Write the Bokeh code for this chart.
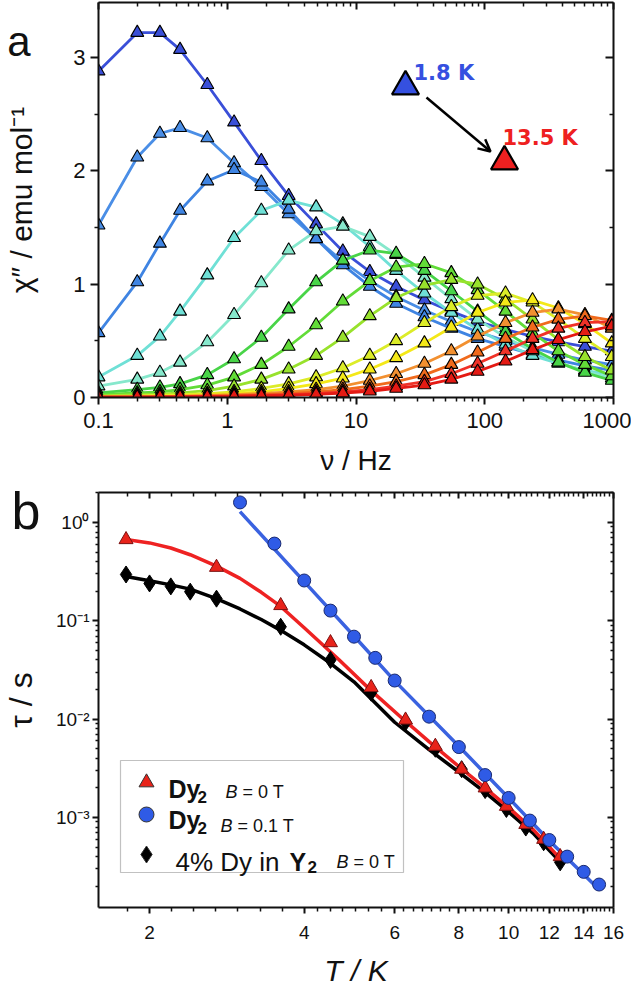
import math
from bokeh.plotting import figure
from bokeh.layouts import column
from bokeh.models import (Range1d, FixedTicker, LogAxis, LinearAxis, Label, Arrow,
                          OpenHead, BoxAnnotation, CustomJSTickFormatter)
from bokeh.embed import file_html
from bokeh.resources import INLINE

FONT = "Liberation Sans"

# ---------------- panel a : chi'' vs frequency ----------------
freq_hz = [0.1, 0.2, 0.3, 0.43, 0.7, 1.13, 1.84, 3.0, 4.9, 7.9, 12.8, 20.5, 34, 55, 88,
           145, 235, 373, 600, 970]
chi_c1 = [2.88, 3.22, 3.22, 3.07, 2.76, 2.43, 2.09, 1.78, 1.53, 1.29, 1.11, 0.98, 0.86, 0.76, 0.67, 0.60, 0.54, 0.49, 0.45, 0.41]
chi_c2 = [1.52, 2.12, 2.33, 2.38, 2.29, 2.07, 1.86, 1.62, 1.40, 1.20, 1.03, 0.89, 0.77, 0.67, 0.58, 0.50, 0.44, 0.38, 0.33, 0.29]
chi_c3 = [0.57, 1.02, 1.36, 1.65, 1.91, 2.01, 1.90, 1.66, 1.40, 1.17, 0.98, 0.83, 0.71, 0.61, 0.52, 0.45, 0.38, 0.33, 0.28, 0.24]
chi_c4 = [0.18, 0.37, 0.54, 0.76, 1.08, 1.41, 1.65, 1.74, 1.68, 1.53, 1.33, 1.12, 0.92, 0.75, 0.60, 0.47, 0.37, 0.30, 0.24, 0.20]
chi_c5 = [0.10, 0.16, 0.22, 0.31, 0.49, 0.73, 1.01, 1.30, 1.47, 1.51, 1.42, 1.26, 1.06, 0.87, 0.69, 0.53, 0.41, 0.31, 0.23, 0.17]
chi_c6 = [0.04, 0.07, 0.09, 0.12, 0.20, 0.34, 0.53, 0.78, 1.02, 1.21, 1.30, 1.27, 1.12, 0.94, 0.76, 0.58, 0.43, 0.31, 0.22, 0.15]
chi_c7 = [0.025, 0.04, 0.05, 0.07, 0.11, 0.18, 0.29, 0.45, 0.64, 0.85, 1.03, 1.15, 1.18, 1.10, 0.95, 0.76, 0.57, 0.41, 0.29, 0.19]
chi_c8 = [0.015, 0.025, 0.03, 0.04, 0.06, 0.10, 0.16, 0.25, 0.37, 0.53, 0.72, 0.88, 0.99, 1.04, 1.00, 0.87, 0.69, 0.51, 0.36, 0.24]
chi_c9 = [0.01, 0.015, 0.02, 0.025, 0.035, 0.05, 0.08, 0.12, 0.18, 0.26, 0.37, 0.50, 0.66, 0.80, 0.90, 0.92, 0.84, 0.69, 0.52, 0.36]
chi_c10 = [0.008, 0.01, 0.013, 0.017, 0.025, 0.035, 0.05, 0.08, 0.12, 0.17, 0.25, 0.35, 0.48, 0.62, 0.75, 0.84, 0.86, 0.79, 0.65, 0.48]
chi_c11 = [0.006, 0.008, 0.01, 0.013, 0.018, 0.025, 0.035, 0.05, 0.07, 0.10, 0.15, 0.21, 0.30, 0.41, 0.54, 0.66, 0.75, 0.78, 0.73, 0.61]
chi_c12 = [0.004, 0.006, 0.008, 0.01, 0.013, 0.018, 0.025, 0.035, 0.05, 0.07, 0.10, 0.14, 0.20, 0.29, 0.40, 0.52, 0.62, 0.69, 0.72, 0.68]
chi_c13 = [0.003, 0.004, 0.005, 0.007, 0.01, 0.013, 0.018, 0.025, 0.035, 0.05, 0.07, 0.10, 0.14, 0.21, 0.30, 0.41, 0.52, 0.61, 0.66, 0.67]
chi_c14 = [0.002, 0.003, 0.004, 0.005, 0.007, 0.01, 0.014, 0.019, 0.027, 0.038, 0.055, 0.08, 0.11, 0.16, 0.23, 0.32, 0.42, 0.51, 0.58, 0.63]
curve_colors = ["#3a4fd8", "#4a8ee6", "#3f84e2", "#6fe0d6", "#86e8cc", "#48d448",
                "#62dc38", "#98e22c", "#dcec28", "#f4e818", "#f29030", "#f06a1c",
                "#f03228", "#e41a14"]
chi_curves = [chi_c1, chi_c2, chi_c3, chi_c4, chi_c5, chi_c6, chi_c7, chi_c8, chi_c9,
              chi_c10, chi_c11, chi_c12, chi_c13, chi_c14]

ann_labels = ["1.8 K", "13.5 K"]
ann_colors = ["#3550e0", "#ee2020"]

# ---------------- panel b : tau vs T ----------------
T_dy2_0T = [1.8, 2.7, 3.6, 4.5, 5.4, 6.3, 7.2, 8.1, 9.0, 9.9, 10.8, 11.7, 12.6]
tau_dy2_0T = [0.67, 0.35, 0.143, 0.060, 0.021, 0.0098, 0.0053, 0.0031, 0.0020, 0.0013, 0.00085, 0.0006, 0.00040]
T_dy2_01T = [3.0, 3.5, 4.0, 4.5, 5.0, 5.5, 6.0, 7.0, 8.0, 9.0, 10.0, 11.0, 12.0, 13.0, 14.0, 15.0]
tau_dy2_01T = [1.6, 0.61, 0.257, 0.127, 0.069, 0.042, 0.0247, 0.0106, 0.0052, 0.0027, 0.00158, 0.00093, 0.00059, 0.00040, 0.00028, 0.000208]
T_dilute = [1.8, 2.0, 2.2, 2.4, 2.7, 3.6, 4.5, 5.4, 6.3, 7.2, 8.1, 9.0, 9.9, 10.8, 11.7, 12.6]
tau_dilute = [0.296, 0.24, 0.224, 0.198, 0.168, 0.087, 0.040, 0.0186, 0.0093, 0.0050, 0.0031, 0.0019, 0.00122, 0.00079, 0.00056, 0.00035]

T_fit_red = [1.8, 2.0, 2.2, 2.4, 2.7, 3.0, 3.3, 3.6, 4.0, 4.67, 5.4, 6.18, 7.0, 8.0, 9.0, 10.0, 11.2, 12.5]
tau_fit_red = [0.67, 0.62, 0.55, 0.47, 0.36, 0.27, 0.195, 0.14, 0.085, 0.0404, 0.0195, 0.0104, 0.0059, 0.0033, 0.0020, 0.00126, 0.00074, 0.0004]
T_fit_blue = [3.0, 4.0, 5.0, 6.0, 8.0, 10.0, 12.0, 15.0]
tau_fit_blue = [1.29, 0.25, 0.07, 0.0245, 0.0053, 0.00158, 0.00058, 0.000185]
T_fit_black = [1.8, 2.0, 2.2, 2.4, 2.69, 3.0, 3.3, 3.6, 4.0, 4.5, 5.0, 6.0, 7.0, 8.0, 9.0, 10.0, 11.2, 12.5]
tau_fit_black = [0.282, 0.255, 0.232, 0.21, 0.169, 0.132, 0.103, 0.080, 0.057, 0.037, 0.024, 0.0093, 0.0049, 0.0029, 0.0018, 0.00114, 0.00068, 0.00037]

a_xticks = [0.1, 1, 10, 100, 1000]
a_yticks = [0, 1, 2, 3]
b_xticks = [2, 4, 6, 8, 10, 12, 14, 16]
b_yticks = [0.001, 0.01, 0.1, 1]


def style_axis(ax, inward=False, labels=True, size="22px", tick=7, mtick=4):
    ax.axis_line_width = 2
    ax.axis_line_color = "#111111"
    ax.major_tick_line_width = 2
    ax.minor_tick_line_width = 1.5
    ax.major_tick_line_color = "#111111"
    ax.minor_tick_line_color = "#111111"
    if inward:
        ax.major_tick_in, ax.major_tick_out = tick, 0
        ax.minor_tick_in, ax.minor_tick_out = mtick, 0
    else:
        ax.major_tick_in, ax.major_tick_out = 0, tick
        ax.minor_tick_in, ax.minor_tick_out = 0, mtick
    ax.major_label_text_font = FONT
    ax.major_label_text_font_size = size
    ax.major_label_text_color = "#111111"
    ax.axis_label_text_font = FONT
    ax.axis_label_text_font_style = "normal"
    ax.axis_label_text_color = "#111111"
    if not labels:
        ax.formatter = CustomJSTickFormatter(code="return ''")
        ax.major_label_standoff = 0


def panel_letter_axis(pos, letter, size, standoff):
    ax = LinearAxis(ticker=FixedTicker(ticks=[pos], minor_ticks=[]),
                    formatter=CustomJSTickFormatter(code=f"return '{letter}'"))
    ax.axis_line_color = None
    ax.major_tick_line_color = None
    ax.minor_tick_line_color = None
    ax.major_tick_in = ax.major_tick_out = 0
    ax.minor_tick_in = ax.minor_tick_out = 0
    ax.major_label_text_font = FONT
    ax.major_label_text_font_size = size
    ax.major_label_text_color = "#111111"
    ax.major_label_standoff = standoff
    return ax


# ---- panel a figure
XA = (0.1, 1000.0)
YA = (0.0, 3.486)
pa = figure(frame_width=515, frame_height=395, x_axis_type="log",
            x_range=Range1d(*XA), y_range=Range1d(*YA),
            output_backend="svg", toolbar_location=None,
            min_border_left=95, min_border_right=20, min_border_top=2, min_border_bottom=80)
pa.xgrid.visible = False
pa.ygrid.visible = False
pa.outline_line_color = None
pa.background_fill_color = "white"

a_minor_x = [k * 10.0 ** e for e in range(-1, 3) for k in range(2, 10)]
a_minor_y = [0.5, 1.5, 2.5]
xt_a = FixedTicker(ticks=a_xticks, minor_ticks=a_minor_x)
yt_a = FixedTicker(ticks=a_yticks, minor_ticks=a_minor_y)

xa = pa.xaxis[0]
xa.ticker = xt_a
xa.formatter = CustomJSTickFormatter(code="return String(tick)")
style_axis(xa, size="22px", tick=7, mtick=4)
xa.axis_label = "\u03bd / Hz"
xa.axis_label_text_font_size = "28px"
xa.axis_label_standoff = 14
xa.major_label_standoff = 8

ya = pa.yaxis[0]
ya.ticker = yt_a
ya.formatter = CustomJSTickFormatter(code="return String(tick)")
style_axis(ya, size="22px", tick=8, mtick=4)
ya.axis_label = "\u03c7\u2033 / emu mol\u207b\u00b9"
ya.axis_label_text_font_size = "30px"
ya.axis_label_standoff = 32
ya.major_label_standoff = 5

top_a = LogAxis(ticker=xt_a)
style_axis(top_a, inward=True, labels=False, tick=7, mtick=4)
pa.add_layout(top_a, "above")
right_a = LinearAxis(ticker=yt_a)
style_axis(right_a, inward=True, labels=False, tick=8, mtick=4)
pa.add_layout(right_a, "right")
pa.add_layout(panel_letter_axis(3.45, "a", "42px", -28), "left")

for vals, col in zip(chi_curves, curve_colors):
    pa.line(freq_hz, vals, line_color=col, line_width=2.8)
    pa.scatter(freq_hz, vals, marker="triangle", size=13, fill_color=col,
               line_color="black", line_width=1.1)


def a_px(px, py):
    lx0, lx1 = math.log10(XA[0]), math.log10(XA[1])
    x = 10 ** (lx0 + (px - 100) / 515 * (lx1 - lx0))
    y = YA[0] + (398 - py) / 395 * (YA[1] - YA[0])
    return x, y


tri1 = a_px(407, 87)
tri2 = a_px(506, 162)
pa.scatter([tri1[0]], [tri1[1]], marker="triangle", size=27, fill_color=ann_colors[0],
           line_color="black", line_width=2.2)
pa.scatter([tri2[0]], [tri2[1]], marker="triangle", size=27, fill_color=ann_colors[1],
           line_color="black", line_width=2.2)
s = a_px(428, 98)
e = a_px(492, 152)
pa.add_layout(Arrow(end=OpenHead(size=12, line_width=2.5, line_color="black"),
                    x_start=s[0], y_start=s[1], x_end=e[0], y_end=e[1],
                    line_width=2.5, line_color="black"))
l1 = a_px(415, 73)
l2 = a_px(504, 138)
pa.add_layout(Label(x=l1[0], y=l1[1], text=ann_labels[0], text_color=ann_colors[0],
                    text_font="DejaVu Sans", text_font_style="bold", text_font_size="21px",
                    text_baseline="alphabetic"))
pa.add_layout(Label(x=l2[0], y=l2[1], text=ann_labels[1], text_color=ann_colors[1],
                    text_font="DejaVu Sans", text_font_style="bold", text_font_size="21px",
                    text_baseline="alphabetic"))

# ---- panel b figure
XB = (1.591, 16.0)
YB = (1.215e-4, 2.018)
pb = figure(frame_width=515, frame_height=415, x_axis_type="log", y_axis_type="log",
            x_range=Range1d(*XB), y_range=Range1d(*YB),
            output_backend="svg", toolbar_location=None,
            min_border_left=95, min_border_right=20, min_border_top=14, min_border_bottom=72)
pb.xgrid.visible = False
pb.ygrid.visible = False
pb.outline_line_color = None
pb.background_fill_color = "white"

b_minor_x = []
for a0, a1 in zip(b_xticks[:-1], b_xticks[1:]):
    for k in range(1, 7):
        b_minor_x.append(a0 * (a1 / a0) ** (k / 7))
b_minor_x.append(2.0 / 2.0 ** (1 / 7))
b_minor_y = [k * 10.0 ** e for e in range(-4, 1) for k in range(2, 10)]
xt_b = FixedTicker(ticks=b_xticks, minor_ticks=b_minor_x)
yt_b = FixedTicker(ticks=b_yticks, minor_ticks=b_minor_y)

xb = pb.xaxis[0]
xb.ticker = xt_b
xb.formatter = CustomJSTickFormatter(code="return String(Math.round(tick))")
style_axis(xb, size="19px", tick=6, mtick=4)
xb.axis_label = "T / K"
xb.axis_label_text_font_size = "30px"
xb.axis_label_text_font_style = "italic"
xb.axis_label_standoff = 12
xb.major_label_standoff = 12

yb = pb.yaxis[0]
yb.ticker = yt_b
yb.formatter = CustomJSTickFormatter(code="""
const m = {"-": "\u207b", "0": "\u2070", "1": "\u00b9", "2": "\u00b2", "3": "\u00b3", "4": "\u2074"};
const e = Math.round(Math.log10(tick)).toString();
return "10" + e.split("").map(c => m[c]).join("");
""")
style_axis(yb, size="19px", tick=6, mtick=3)
yb.axis_label = "\u03c4 / s"
yb.axis_label_text_font_size = "32px"
yb.axis_label_standoff = 14
yb.major_label_standoff = 3

top_b = LogAxis(ticker=xt_b)
style_axis(top_b, inward=True, labels=False, tick=6, mtick=4)
pb.add_layout(top_b, "above")
right_b = LogAxis(ticker=yt_b)
style_axis(right_b, inward=True, labels=False, tick=6, mtick=3)
pb.add_layout(right_b, "right")
pb.add_layout(panel_letter_axis(1.30, "b", "52px", -40), "left")

pb.line(T_fit_black, tau_fit_black, line_color="black", line_width=3.5)
pb.line(T_fit_red, tau_fit_red, line_color="#ee2222", line_width=3.5)
pb.line(T_fit_blue, tau_fit_blue, line_color="#3a62e0", line_width=3.5)
pb.scatter(T_dilute, tau_dilute, marker="diamond", size=17, fill_color="black",
           line_color="black")
pb.scatter(T_dy2_0T, tau_dy2_0T, marker="triangle", size=14, fill_color="#e8231a",
           line_color="#7a1010", line_width=1)
pb.scatter(T_dy2_01T, tau_dy2_01T, marker="circle", size=13, fill_color="#2f5be6",
           line_color="#1a2a70", line_width=1)


def b_px(px, py):
    lx0, lx1 = math.log10(XB[0]), math.log10(XB[1])
    ly0, ly1 = math.log10(YB[0]), math.log10(YB[1])
    x = 10 ** (lx0 + (px - 100) / 515 * (lx1 - lx0))
    y = 10 ** (ly1 - (py - 493) / 415 * (ly1 - ly0))
    return x, y


bl, bt = b_px(122, 761)
br, bb = b_px(405, 873)
pb.add_layout(BoxAnnotation(left=bl, right=br, top=bt, bottom=bb, fill_alpha=0,
                            line_color="#333333", line_width=1.2))
legend_markers = ["triangle", "circle", "diamond"]
legend_fill = ["#e8231a", "#2f5be6", "black"]
legend_rows_py = [783, 815, 855]
for mk, fc, py in zip(legend_markers, legend_fill, legend_rows_py):
    mx, my = b_px(148, py)
    pb.scatter([mx], [my], marker=mk, size=15 if mk != "diamond" else 17,
               fill_color=fc, line_color="#333333", line_width=1)


def blab(px, py, text, size, style="normal"):
    pb.add_layout(Label(x=XB[0], y=YB[1], x_offset=px - 100, y_offset=-(py - 493),
                        text=text, text_font=FONT, text_font_size=f"{size}px",
                        text_font_style=style, text_color="#111111",
                        text_baseline="alphabetic", text_align="left"))


blab(170, 789, "Dy", 25, "bold")
blab(199, 797, "2", 17, "bold")
blab(227, 792, "B", 18, "italic")
blab(244, 792, "= 0 T", 18)
blab(170, 820, "Dy", 25, "bold")
blab(199, 828, "2", 17, "bold")
blab(222, 826, "B", 18, "italic")
blab(239, 826, "= 0.1 T", 18)
blab(177, 862, "4% Dy in", 26)
blab(291, 862, "Y", 25, "bold")
blab(309, 867, "2", 17, "bold")
blab(338, 862, "B", 18, "italic")
blab(355, 862, "= 0 T", 18)

layout = column(pa, pb)
open("out.html", "w").write(file_html(layout, INLINE))
